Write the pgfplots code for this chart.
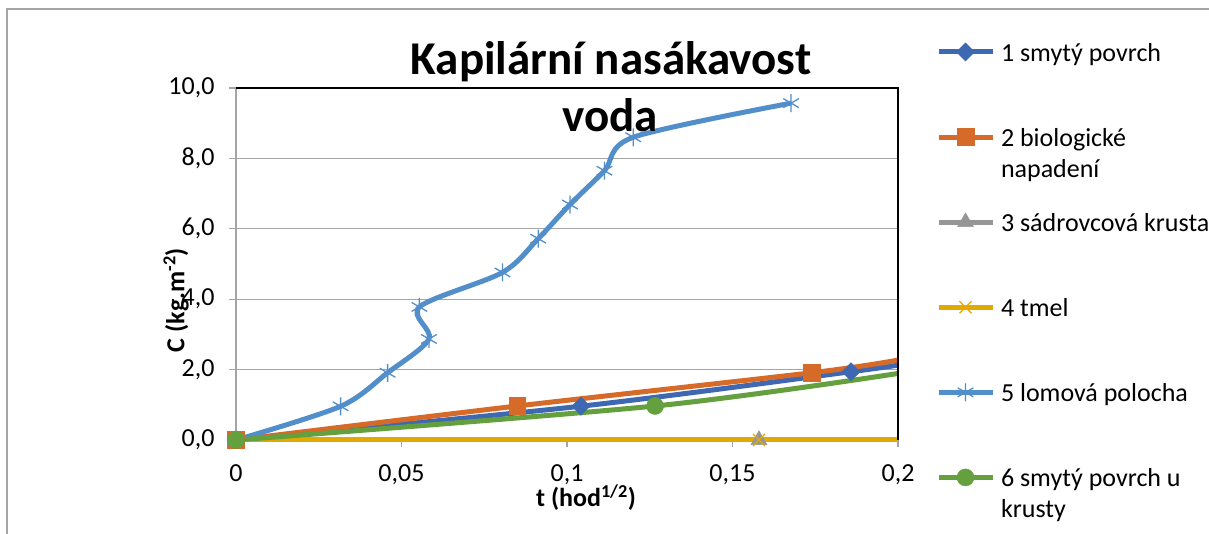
\documentclass[border=0pt]{standalone}
\usepackage{pgfplots}
\pgfplotsset{compat=1.18}
\usepackage{fontspec}
\setmainfont{Carlito}
\definecolor{cA}{RGB}{62,104,178}
\definecolor{cB}{RGB}{214,106,40}
\definecolor{cC}{RGB}{150,150,150}
\definecolor{cD}{RGB}{226,170,0}
\definecolor{cE}{RGB}{82,142,202}
\definecolor{cF}{RGB}{100,160,62}
\definecolor{gridc}{RGB}{165,165,165}
\newcommand{\LE}[1]{\raisebox{0pt}[20pt][10pt]{\parbox[t]{230pt}{\raggedright\fontsize{26}{31}\selectfont #1}}}
\begin{document}
\begin{tikzpicture}
\useasboundingbox (0,0) rectangle (1209pt,534pt);
\draw[gridc, line width=1.3pt] (7pt,525pt) rectangle (1300pt,-60pt);
\begin{axis}[
  at={(236pt,94pt)}, anchor=south west,
  scale only axis, width=662pt, height=352pt,
  xmin=0, xmax=0.2, ymin=0, ymax=10,
  clip=false,
  xtick={0,0.05,0.1,0.15,0.2},
  xticklabels={0,{0,05},{0,1},{0,15},{0,2}},
  ytick={0,2,4,6,8,10},
  yticklabels={{0,0},{2,0},{4,0},{6,0},{8,0},{10,0}},
  ymajorgrids, grid style={gridc, line width=1.3pt},
  axis line style={gridc, line width=1.3pt},
  tick style={gridc, line width=1.3pt},
  tick align=outside, major tick length=7pt,
  xtick pos=bottom, ytick pos=left,
  ticklabel style={font=\fontsize{26}{31}\selectfont, text=black},
  xticklabel style={yshift=-14pt},
  yticklabel style={xshift=-11pt},
  legend style={at={(axis description cs:1.0574,1.133)}, anchor=north west,
    draw=none, fill=none, inner sep=0pt, outer sep=0pt,
    row sep=63.6pt, column sep=6pt,
    nodes={inner sep=0pt}, font=\fontsize{26}{31}\selectfont},
  legend cell align=left,
  legend image code/.code={\draw[mark indices={2}] plot coordinates {(0pt,0pt) (27pt,0pt) (54pt,0pt)};},
  every axis plot/.append style={line width=5pt, smooth},
]
\addplot[cA, mark=square*, mark size=6.4pt, mark indices={1,2,3}, mark options={rotate=45, solid, fill=cA, line width=0.5pt}]
  coordinates {(0,0) (0.1042,0.96) (0.1858,1.94) (0.2,2.13)};
\addlegendentry{\LE{1 smytý povrch}}
\addplot[cB, mark=square*, mark size=8.3pt, mark indices={1,2,3}, mark options={solid, fill=cB, line width=0.5pt}]
  coordinates {(0,0) (0.085,0.966) (0.1739,1.91) (0.2,2.27)};
\addlegendentry{\LE{2 biologické\newline napadení}}
\addplot[cC, mark=triangle*, mark size=9.2pt, mark options={solid, fill=cC, line width=0.5pt}]
  coordinates {(0,0) (0.158,0)};
\addlegendentry{\LE{3 sádrovcová krusta}}
\addplot[cD, mark=x, mark size=8.5pt, mark indices={1,2}, mark options={solid, line width=1.3pt}]
  coordinates {(0,0) (0.158,0) (0.2,0)};
\addlegendentry{\LE{4 tmel}}
\addplot[cE, mark=asterisk, mark size=9pt, mark options={solid, line width=1.3pt}]
  coordinates {(0,0) (0.0316,0.957) (0.0458,1.91) (0.0583,2.87) (0.0554,3.78) (0.0805,4.76) (0.0913,5.72) (0.1009,6.69) (0.1113,7.65) (0.1200,8.60) (0.1677,9.57)};
\addlegendentry{\LE{5 lomová polocha}}
\addplot[cF, mark=*, mark size=8.5pt, mark indices={1,2}, mark options={solid, fill=cF, line width=0.5pt}]
  coordinates {(0,0) (0.1266,0.966) (0.2,1.89)};
\addlegendentry{\LE{6 smytý povrch u\newline krusty}}
\draw[black, line width=1.5pt] (rel axis cs:0,1) -- (rel axis cs:1,1) -- (rel axis cs:1,0);
\end{axis}
\node[anchor=base, font=\bfseries\fontsize{47}{57}\selectfont] at (611pt,459pt) {Kapilární nasákavost};
\node[anchor=base, font=\bfseries\fontsize{47}{57}\selectfont] at (610pt,402.3pt) {voda};
\node[rotate=90, font=\bfseries\fontsize{26}{31}\selectfont] at (176pt,234pt) {C (kg.m\textsuperscript{-2})};
\node[inner sep=0pt, font=\bfseries\fontsize{26}{31}\selectfont] at (586pt,36pt) {t (hod\textsuperscript{1/2})};
\end{tikzpicture}
\end{document}
